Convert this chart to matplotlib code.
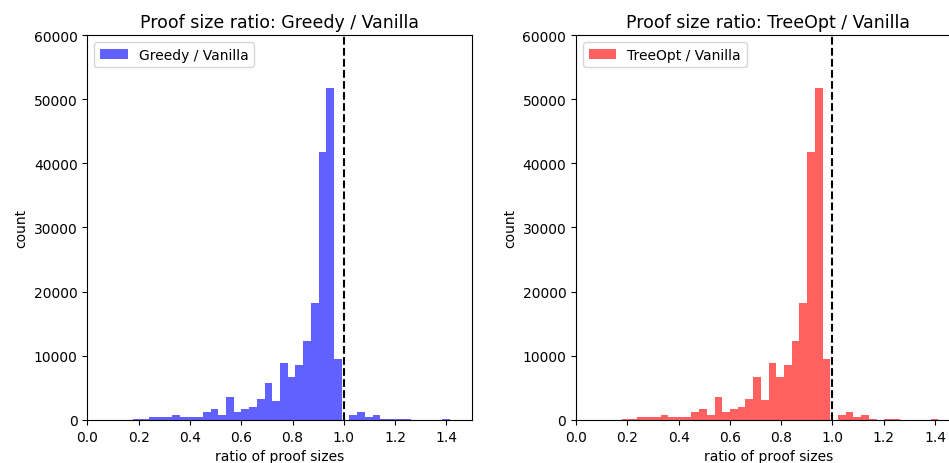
import numpy as np
import matplotlib
matplotlib.use("Agg")
import matplotlib.pyplot as plt

# bin edges (41 bins from 0.179 to 1.413)
bin_lo = 0.179
bin_hi = 1.413
n_bins = 41

# counts per bin
greedy_counts = [200, 200, 400, 400, 400, 750, 400, 400, 400, 1200,
                 1700, 700, 3600, 1200, 1700, 2100, 3200, 5700, 3000, 8900,
                 6750, 8500, 12250, 18200, 41700, 51700, 9500, 0, 700, 1200,
                 500, 700, 200, 200, 200, 200, 0, 0, 0, 0,
                 200]
treeopt_counts = [200, 200, 400, 400, 400, 750, 400, 400, 400, 1200,
                  1700, 700, 3600, 1200, 1700, 2100, 3200, 6700, 3100, 8900,
                  6700, 8500, 12300, 18200, 41800, 51700, 9500, 0, 700, 1200,
                  500, 700, 200, 0, 200, 200, 0, 0, 0, 0,
                  200]

edges = np.linspace(bin_lo, bin_hi, n_bins + 1)
centers = (edges[:-1] + edges[1:]) / 2

fig = plt.figure(figsize=(9.49, 4.64), dpi=100)
ax1 = fig.add_axes([0.0922, 0.0927, 0.4052, 0.8297])
ax2 = fig.add_axes([0.6070, 0.0927, 0.4052, 0.8297])

panels = [
    (ax1, greedy_counts, 'blue', 'Greedy / Vanilla'),
    (ax2, treeopt_counts, 'red', 'TreeOpt / Vanilla'),
]

for ax, counts, color, name in panels:
    ax.hist(centers, bins=edges, weights=counts, color=color, alpha=0.62, label=name)
    ax.axvline(1.0, color='black', linestyle='--')
    ax.set_xlim(0, 1.5)
    ax.set_ylim(0, 60000)
    ax.set_title('Proof size ratio: ' + name, fontsize=12.5)
    ax.set_xlabel('ratio of proof sizes')
    ax.set_ylabel('count')
    ax.legend(loc='upper left')

fig.savefig('out.png', dpi=100)
